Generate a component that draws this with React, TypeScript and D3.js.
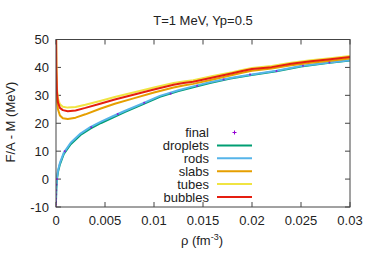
import React from "react";
import * as d3 from "d3";

// densities (fm^-3) for the two groups of curves
const rhoUpper = [0, 0.00003, 0.0001, 0.0002, 0.0004, 0.0007, 0.0012, 0.002, 0.003, 0.0045, 0.006, 0.008, 0.01, 0.012, 0.013, 0.014, 0.016, 0.018, 0.019, 0.02, 0.022, 0.024, 0.026, 0.028, 0.03];
const bubbles = [56, 40, 31, 27.5, 25.5, 24.7, 24.3, 24.6, 25.5, 27, 28.5, 30.3, 32.1, 33.8, 34.4, 34.9, 36.4, 37.9, 38.7, 39.4, 40.1, 41.3, 42.2, 42.9, 43.7];
const tubes = [57, 41.5, 32.3, 28.8, 26.8, 25.9, 25.6, 25.8, 26.6, 28, 29.4, 31.1, 32.8, 34.4, 35, 35.4, 36.9, 38.3, 39.1, 39.8, 40.5, 41.7, 42.6, 43.3, 44.1];
const slabs = [55, 38, 28, 25, 22.8, 21.8, 21.5, 22, 23.2, 25.2, 27, 29, 31, 32.8, 33.5, 34.1, 35.7, 37.3, 38.1, 38.8, 39.6, 40.8, 41.7, 42.4, 43.2];

const rhoLower = [0, 0.00001, 0.00003, 0.0001, 0.0002, 0.0004, 0.0008, 0.0015, 0.0025, 0.0035, 0.0046, 0.0058, 0.007, 0.0089, 0.0106, 0.0125, 0.014, 0.0157, 0.0178, 0.0198, 0.0225, 0.025, 0.0275, 0.03];
const rods = [-8, -6, -3, 0.5, 3, 5.8, 9.5, 13, 16.3, 18.6, 20.6, 22.5, 24.4, 27.2, 29.8, 31.8, 33.2, 34.7, 36.2, 37.4, 38.8, 40.5, 41.6, 42.6];
const droplets = [-8.5, -6.5, -3.5, 0, 2.5, 5.3, 9, 12.5, 15.8, 18.1, 20.1, 22, 24, 26.9, 29.5, 31.5, 32.9, 34.4, 36, 37.2, 38.6, 40.3, 41.5, 42.5];

const finalRho = [0, 0, 0, 0, 0.00001, 0.00002, 0.00004, 0.0001, 0.0009, 0.0036, 0.0063, 0.009, 0.0117, 0.0144, 0.0171, 0.0198, 0.0225, 0.0252, 0.0279];
const finalF = [-10, -9, -8, -7, -5.5, -4, -2, 0, 10, 18.6, 23.3, 27.3, 30.6, 33.4, 35.7, 37.5, 38.7, 40.6, 41.8];

const xTicks = [0, 0.005, 0.01, 0.015, 0.02, 0.025, 0.03];
const xTickLabels = ["0", "0.005", "0.01", "0.015", "0.02", "0.025", "0.03"];
const yTicks = [-10, 0, 10, 20, 30, 40, 50];

const seriesNames = ["droplets", "rods", "slabs", "tubes", "bubbles"];
const seriesColors = ["#009e73", "#56b4e9", "#e69f00", "#f0e442", "#e51e10"];

const W = 374, H = 262;
const left = 56, right = 350, top = 39.5, bottom = 207;

export default function App() {
  const x = d3.scaleLinear().domain([0, 0.03]).range([left, right]);
  const y = d3.scaleLinear().domain([-10, 50]).range([bottom, top]);
  const line = (xs: number[], ys: number[]) =>
    d3.line<number>().x((_, i) => x(xs[i])).y(d => y(d))(ys) || "";

  const curves = [
    { xs: rhoLower, ys: droplets },
    { xs: rhoLower, ys: rods },
    { xs: rhoUpper, ys: slabs },
    { xs: rhoUpper, ys: tubes },
    { xs: rhoUpper, ys: bubbles },
  ];

  const font = "'Liberation Sans', Arial, sans-serif";
  const legendTextX = 209, legendY0 = 132.5, legendStep = 12.9;

  return (
    <svg width={W} height={H} style={{ position: "absolute", left: 0, top: 0 }} fontFamily={font}>
      <rect width={W} height={H} fill="white" />
      <defs>
        <clipPath id="plot">
          <rect x={left} y={top} width={right - left} height={bottom - top} />
        </clipPath>
      </defs>
      <text x={203} y={25} fontSize={13} textAnchor="middle" fill="#222">T=1 MeV, Yp=0.5</text>

      {/* ticks */}
      {xTicks.map((t, i) => (
        <g key={"x" + i}>
          <line x1={x(t)} x2={x(t)} y1={bottom} y2={bottom - 5} stroke="#444" />
          <line x1={x(t)} x2={x(t)} y1={top} y2={top + 5} stroke="#444" />
          <text x={x(t)} y={225} fontSize={13} textAnchor="middle" fill="#222">{xTickLabels[i]}</text>
        </g>
      ))}
      {yTicks.map((t, i) => (
        <g key={"y" + i}>
          <line x1={left} x2={left + 5} y1={y(t)} y2={y(t)} stroke="#444" />
          <line x1={right} x2={right - 5} y1={y(t)} y2={y(t)} stroke="#444" />
          <text x={49} y={y(t) + 4.5} fontSize={13} textAnchor="end" fill="#222">{t}</text>
        </g>
      ))}

      <g clipPath="url(#plot)">
        {curves.map((c, i) => (
          <path key={i} d={line(c.xs, c.ys)} fill="none" stroke={seriesColors[i]} strokeWidth={2} strokeLinejoin="round" />
        ))}
        {finalRho.map((r, i) => (
          <path key={"f" + i} d={`M${x(r) - 1},${y(finalF[i])}h2M${x(r)},${y(finalF[i]) - 1}v2`} stroke="#9400d3" strokeWidth={1.2} opacity={0.8} />
        ))}
      </g>

      <rect x={left} y={top} width={right - left} height={bottom - top} fill="none" stroke="#444" strokeWidth={1} />

      {/* legend */}
      <text x={legendTextX} y={legendY0 + 4.5} fontSize={13} textAnchor="end" fill="#222">final</text>
      <path d={`M${234.5 - 2},${legendY0}h4M234.5,${legendY0 - 2}v4`} stroke="#9400d3" strokeWidth={1} />
      {seriesNames.map((n, i) => {
        const yy = legendY0 + legendStep * (i + 1);
        return (
          <g key={n}>
            <text x={legendTextX} y={yy + 4.5} fontSize={13} textAnchor="end" fill="#222">{n}</text>
            <line x1={217} x2={252} y1={yy} y2={yy} stroke={seriesColors[i]} strokeWidth={2} />
          </g>
        );
      })}

      {/* axis labels */}
      <text x={202} y={245} fontSize={13} textAnchor="middle" fill="#222">
        ρ (fm<tspan dy={-5} fontSize={9}>-3</tspan><tspan dy={5}>)</tspan>
      </text>
      <text transform="translate(15,122) rotate(-90)" fontSize={13} textAnchor="middle" fill="#222">F/A - M (MeV)</text>
    </svg>
  );
}
